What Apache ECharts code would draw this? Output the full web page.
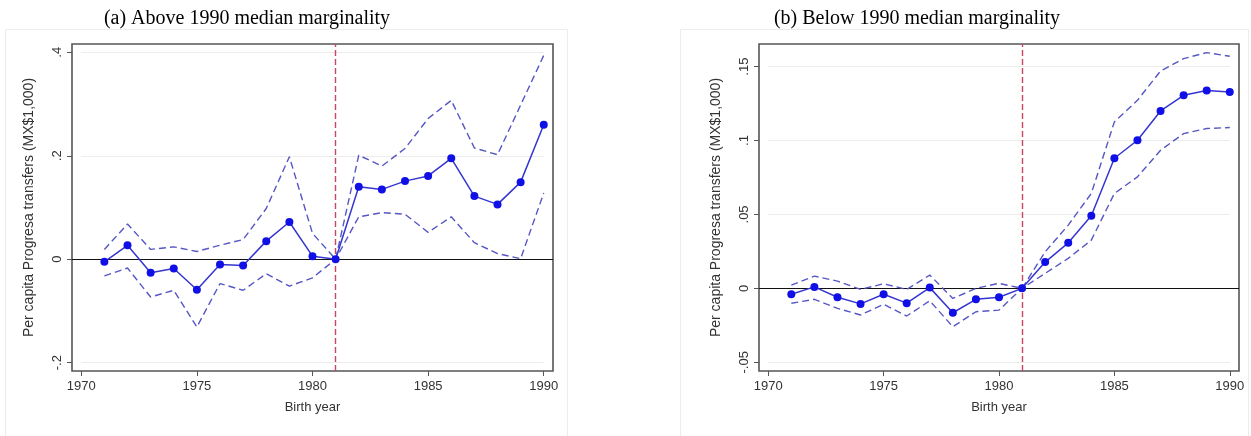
<!DOCTYPE html>
<html>
<head>
<meta charset="utf-8">
<script src="https://cdn.jsdelivr.net/npm/echarts@6/dist/echarts.min.js"></script>
<style>
  html, body { margin: 0; padding: 0; background: #fff; }
  #chart { width: 1251px; height: 436px; }
</style>
</head>
<body>
<div id="chart"></div>
<script>
// birth-year cohorts
const years = [1971, 1972, 1973, 1974, 1975, 1976, 1977, 1978, 1979, 1980,
  1981, 1982, 1983, 1984, 1985, 1986, 1987, 1988, 1989, 1990]

// (a) above median marginality
const aEst = [-0.005, 0.027, -0.026, -0.018, -0.059, -0.010, -0.012, 0.035, 0.072, 0.006,
  0, 0.140, 0.135, 0.151, 0.161, 0.195, 0.122, 0.106, 0.149, 0.260]
const aUpper = [0.019, 0.068, 0.019, 0.024, 0.015, 0.027, 0.038, 0.098, 0.198, 0.050,
  0, 0.201, 0.180, 0.214, 0.272, 0.307, 0.215, 0.202, 0.298, 0.394]
const aLower = [-0.032, -0.017, -0.073, -0.060, -0.131, -0.047, -0.060, -0.028, -0.052, -0.036,
  0, 0.082, 0.090, 0.087, 0.052, 0.082, 0.032, 0.011, 0.001, 0.128]

// (b) below median marginality
const bEst = [-0.004, 0.001, -0.006, -0.0105, -0.004, -0.010, 0.0005, -0.0165, -0.0074, -0.006,
  0, 0.0178, 0.0308, 0.0491, 0.088, 0.1002, 0.120, 0.1306, 0.1338, 0.1329]
const bUpper = [0.0022, 0.0083, 0.0049, -0.0007, 0.0031, -0.0007, 0.009, -0.0068, 0, 0.0034,
  0, 0.0247, 0.0428, 0.0642, 0.1126, 0.1272, 0.147, 0.1554, 0.1595, 0.157]
const bLower = [-0.0101, -0.0074, -0.0135, -0.018, -0.0108, -0.0187, -0.0084, -0.026, -0.0158, -0.0147,
  0, 0.0101, 0.0203, 0.0326, 0.0642, 0.0754, 0.0934, 0.1047, 0.1081, 0.1088]

const xTicks = [1970, 1975, 1980, 1985, 1990]
const aTicks = [-0.2, 0, 0.2, 0.4]
const bTicks = [-0.05, 0, 0.05, 0.1, 0.15]
const cutoffYear = 1981

const titles = ['(a) Above 1990 median marginality', '(b) Below 1990 median marginality']
const yName = 'Per capita Progresa transfers (MX$1,000)'
const xName = 'Birth year'

const sans = '"Liberation Sans", Arial, sans-serif'
const serif = '"Liberation Serif", "Times New Roman", serif'
const estColor = '#1010e6'
const ciColor = '#5656c4'
const cutColor = '#c94562'

const pairs = (vals) => years.map((y, i) => [y, vals[i]])
const fmt = (v) => (v === 0 ? '0' : String(+v.toFixed(2)).replace('0.', '.'))

function xAxisFor(gridIndex) {
  return {
    type: 'value',
    gridIndex,
    min: 1969.6,
    max: 1990.4,
    name: xName,
    nameLocation: 'middle',
    nameGap: 30,
    nameTextStyle: { fontFamily: sans, fontSize: 13, color: '#333' },
    axisLine: { show: false, onZero: false },
    axisTick: { show: true, length: 5, customValues: xTicks, lineStyle: { color: '#555' } },
    axisLabel: {
      customValues: xTicks,
      margin: 9,
      fontFamily: sans,
      fontSize: 13,
      color: '#333',
      formatter: (v) => String(v),
    },
    splitLine: { show: false },
  }
}

function yAxisFor(gridIndex, ticks, min, max) {
  return {
    type: 'value',
    gridIndex,
    min,
    max,
    name: yName,
    nameLocation: 'middle',
    nameGap: 36,
    nameTextStyle: { fontFamily: sans, fontSize: 14, color: '#333' },
    axisLine: { show: false, onZero: false },
    axisTick: { show: true, length: 5, customValues: ticks, lineStyle: { color: '#555' } },
    axisLabel: {
      customValues: ticks,
      rotate: 90,
      margin: 8,
      fontFamily: sans,
      fontSize: 13,
      color: '#333',
      formatter: fmt,
    },
    splitLine: { show: false },
  }
}

function panelSeries(idx, est, upper, lower, ticks) {
  const common = { xAxisIndex: idx, yAxisIndex: idx, symbol: 'none', silent: true }
  return [
    {
      // reference lines only
      ...common,
      type: 'line',
      data: [],
      z: 1,
      markLine: {
        symbol: 'none',
        silent: true,
        z: 1,
        label: { show: false },
        data: [
          ...ticks.filter((t) => t !== 0).map((t) => [
            { coord: [xTicks[0], t], lineStyle: { color: '#ececec', width: 1, type: 'solid' } },
            { coord: [xTicks[xTicks.length - 1], t] },
          ]),
          { yAxis: 0, lineStyle: { color: '#111', width: 1.2, type: 'solid' } },
          { xAxis: cutoffYear, lineStyle: { color: cutColor, width: 1.4, type: [6, 3] } },
        ],
      },
    },
    {
      ...common,
      type: 'line',
      data: pairs(upper),
      z: 3,
      lineStyle: { color: ciColor, width: 1.4, type: [7, 4] },
    },
    {
      ...common,
      type: 'line',
      data: pairs(lower),
      z: 3,
      lineStyle: { color: ciColor, width: 1.4, type: [7, 4] },
    },
    {
      ...common,
      type: 'line',
      data: pairs(est),
      symbol: 'circle',
      symbolSize: 8,
      z: 4,
      lineStyle: { color: '#3535cf', width: 1.5 },
      itemStyle: { color: estColor },
    },
  ]
}

const chart = echarts.init(document.getElementById('chart'), null, { renderer: 'canvas' })

chart.setOption({
  animation: false,
  backgroundColor: '#fff',
  title: [
    { text: titles[0], left: 242, top: 4, textAlign: 'center',
      textStyle: { fontFamily: serif, fontSize: 20, fontWeight: 'normal', color: '#000' } },
    { text: titles[1], left: 912, top: 4, textAlign: 'center',
      textStyle: { fontFamily: serif, fontSize: 20, fontWeight: 'normal', color: '#000' } },
  ],
  graphic: [
    { type: 'rect', shape: { x: 5.5, y: 29.5, width: 562, height: 420 }, silent: true, z: -10,
      style: { fill: 'none', stroke: '#ececec', lineWidth: 1 } },
    { type: 'rect', shape: { x: 680.5, y: 29.5, width: 568, height: 420 }, silent: true, z: -10,
      style: { fill: 'none', stroke: '#ececec', lineWidth: 1 } },
  ],
  grid: [
    { left: 72, top: 44, width: 481, height: 327, show: true, borderColor: '#555', borderWidth: 1.6, backgroundColor: '#fff' },
    { left: 759, top: 44, width: 480, height: 327, show: true, borderColor: '#555', borderWidth: 1.6, backgroundColor: '#fff' },
  ],
  xAxis: [xAxisFor(0), xAxisFor(1)],
  yAxis: [
    yAxisFor(0, aTicks, -0.216, 0.416),
    yAxisFor(1, bTicks, -0.0559, 0.1653),
  ],
  series: [
    ...panelSeries(0, aEst, aUpper, aLower, aTicks),
    ...panelSeries(1, bEst, bUpper, bLower, bTicks),
  ],
})
</script>
</body>
</html>
